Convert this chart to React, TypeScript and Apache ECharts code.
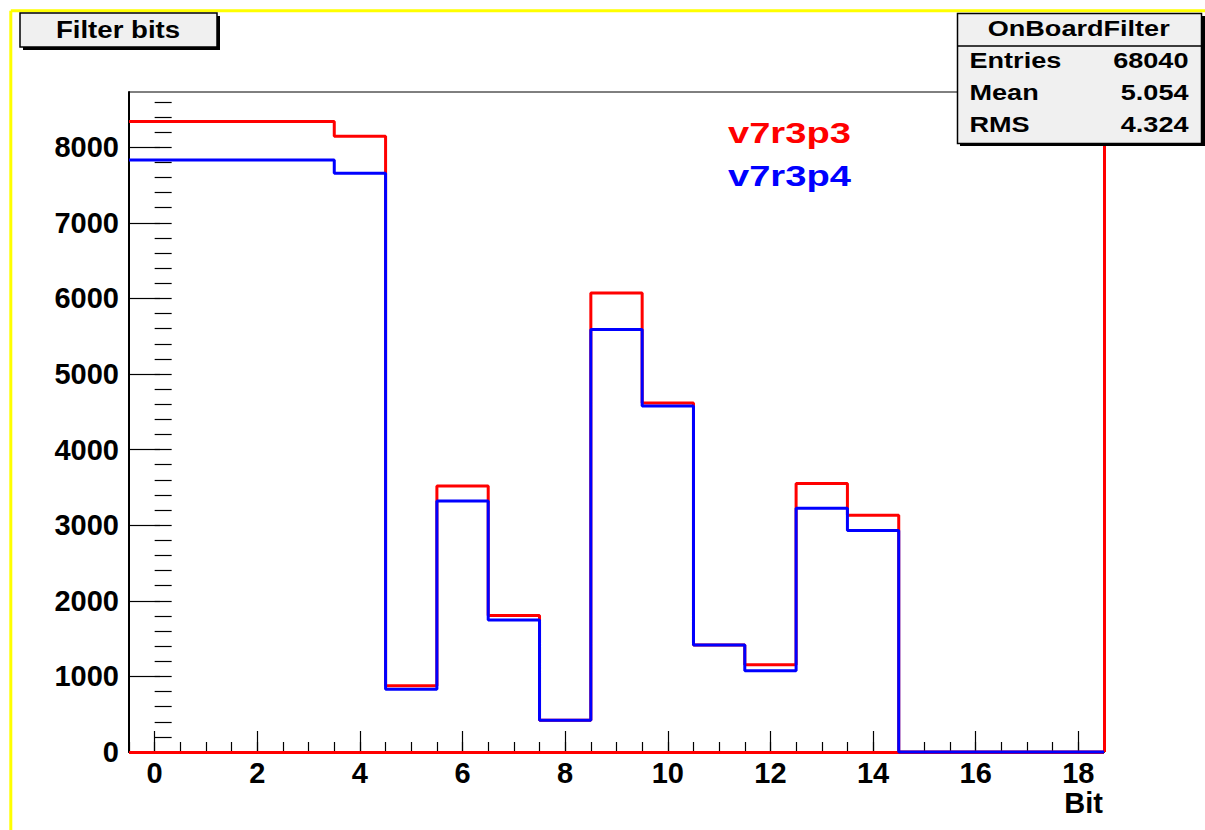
import React, { useEffect, useRef } from "react";
import * as echarts from "echarts";

// ---- data ----
const bins = [0, 1, 2, 3, 4, 5, 6, 7, 8, 9, 10, 11, 12, 13, 14, 15, 16, 17, 18];
const redValues = [8340, 8340, 8340, 8340, 8145, 875, 3520, 1805, 420, 6070, 4615, 1415, 1155, 3550, 3130, 0, 0, 0, 0];
const blueValues = [7830, 7830, 7830, 7830, 7655, 830, 3320, 1745, 420, 5590, 4575, 1415, 1075, 3225, 2930, 0, 0, 0, 0];
const seriesNames = ["v7r3p3", "v7r3p4"];
const xMajorTicks = [0, 2, 4, 6, 8, 10, 12, 14, 16, 18];
const yMajorTicks = [0, 1000, 2000, 3000, 4000, 5000, 6000, 7000, 8000];
const X_MIN = -0.5;
const X_MAX = 18.5;
const Y_MAX = 8730;
const titleText = "Filter bits";
const statTitle = "OnBoardFilter";
const statNames = ["Entries", "Mean", "RMS"];
const statValues = ["68040", "5.054", "4.324"];
const xAxisTitle = "Bit";

function range(start: number, end: number, step: number) {
  const out: number[] = [];
  for (let v = start; v <= end + 1e-9; v += step) out.push(Math.round(v * 1000) / 1000);
  return out;
}
const xMinorTicks = range(X_MIN, X_MAX, 0.5);
const yMinorTicks = range(0, 8600, 200);

function stepData(values: number[]) {
  const pts: number[][] = [];
  bins.forEach((b, i) => pts.push([b - 0.5, values[i]]));
  pts.push([X_MAX, values[values.length - 1]]);
  return pts;
}

const FONT = "Liberation Sans, Arial, Helvetica, sans-serif";
const RED = "#ff0000";
const BLUE = "#0000ff";

export default function App() {
  const ref = useRef<HTMLDivElement>(null);
  useEffect(() => {
    if (!ref.current) return;
    const chart = echarts.init(ref.current, undefined, { renderer: "svg" });
    const tickStyle = { color: "#000", width: 1.2 };
    const plain = (v: number) => String(v);
    const option: any = {
      animation: false,
      backgroundColor: "#ffffff",
      grid: {
        left: 129, right: 101, top: 92, bottom: 78,
        show: true, borderColor: "#000", borderWidth: 1, backgroundColor: "#fff",
      },
      xAxis: [
        {
          type: "value", min: X_MIN, max: X_MAX, position: "bottom",
          axisLine: { show: true, onZero: false, lineStyle: { color: "#000", width: 2 } },
          axisTick: { show: true, inside: true, length: 21, customValues: xMajorTicks, lineStyle: tickStyle },
          axisLabel: {
            show: true, customValues: xMajorTicks, formatter: plain, fontFamily: FONT, fontWeight: "bold",
            fontSize: 29, color: "#000", margin: 6,
          },
          splitLine: { show: false },
        },
        {
          type: "value", min: X_MIN, max: X_MAX, position: "bottom",
          axisLine: { show: false },
          axisTick: { show: true, inside: true, length: 10, customValues: xMinorTicks, lineStyle: tickStyle },
          axisLabel: { show: false },
          splitLine: { show: false },
        },
      ],
      yAxis: [
        {
          type: "value", min: 0, max: Y_MAX, position: "left",
          axisLine: { show: true, onZero: false, lineStyle: { color: "#000", width: 2 } },
          axisTick: { show: true, inside: true, length: 31, customValues: yMajorTicks, lineStyle: tickStyle },
          axisLabel: {
            show: true, customValues: yMajorTicks, formatter: plain, fontFamily: FONT, fontWeight: "bold",
            fontSize: 29, color: "#000", margin: 10,
          },
          splitLine: { show: false },
        },
        {
          type: "value", min: 0, max: Y_MAX, position: "left",
          axisLine: { show: false },
          axisTick: { show: true, inside: true, length: 17, customValues: yMinorTicks, lineStyle: tickStyle },
          axisLabel: { show: false },
          splitLine: { show: false },
        },
      ],
      series: [
        {
          name: seriesNames[0], type: "line", step: "end", xAxisIndex: 0, yAxisIndex: 0,
          data: stepData(redValues), symbol: "none", showSymbol: false, clip: false, z: 2,
          lineStyle: { color: RED, width: 3 },
          markLine: {
            silent: true, symbol: "none", z: 2, label: { show: false },
            lineStyle: { color: RED, width: 3, type: "solid" },
            data: [
              [{ coord: [X_MIN, 0] }, { coord: [X_MAX, 0] }],
              [{ coord: [X_MAX, 0] }, { coord: [X_MAX, Y_MAX] }],
            ],
          },
        },
        {
          name: seriesNames[1], type: "line", step: "end", xAxisIndex: 0, yAxisIndex: 0,
          data: stepData(blueValues), symbol: "none", showSymbol: false, clip: false, z: 3,
          lineStyle: { color: BLUE, width: 3 },
        },
      ],
      graphic: [
        // yellow canvas border
        { type: "line", shape: { x1: 10.8, y1: 10.8, x2: 1205, y2: 10.8 }, style: { stroke: "#ffff00", lineWidth: 3 }, z: 10 },
        { type: "line", shape: { x1: 10.8, y1: 10.8, x2: 10.8, y2: 830 }, style: { stroke: "#ffff00", lineWidth: 3 }, z: 10 },
        // title box
        { type: "rect", shape: { x: 23, y: 16, width: 197, height: 34 }, style: { fill: "#000" }, z: 10 },
        { type: "rect", shape: { x: 20, y: 13, width: 197, height: 34 }, style: { fill: "#f0f0f0", stroke: "#000", lineWidth: 1.5 }, z: 11 },
        {
          type: "text", x: 118, y: 29.5, scaleX: 1.15, z: 12,
          style: { text: titleText, fill: "#000", font: `bold 24px ${FONT}`, textAlign: "center", textVerticalAlign: "middle" },
        },
        // stats box
        { type: "rect", shape: { x: 960, y: 16, width: 245, height: 130 }, style: { fill: "#000" }, z: 10 },
        { type: "rect", shape: { x: 957.5, y: 13.5, width: 244, height: 130 }, style: { fill: "#f0f0f0", stroke: "#000", lineWidth: 1.5 }, z: 11 },
        { type: "line", shape: { x1: 957.5, y1: 46, x2: 1201.5, y2: 46 }, style: { stroke: "#000", lineWidth: 1.5 }, z: 12 },
        {
          type: "text", x: 1078.7, y: 28.5, scaleX: 1.26, z: 12,
          style: { text: statTitle, fill: "#000", font: `bold 21.5px ${FONT}`, textAlign: "center", textVerticalAlign: "middle" },
        },
        ...statNames.map((n, i) => ({
          type: "text", x: 969.5, y: 61 + i * 32, scaleX: 1.26, z: 12,
          style: { text: n, fill: "#000", font: `bold 21.5px ${FONT}`, textAlign: "left", textVerticalAlign: "middle" },
        })),
        ...statValues.map((v, i) => ({
          type: "text", x: 1188.5, y: 61 + i * 32, scaleX: 1.26, z: 12,
          style: { text: v, fill: "#000", font: `bold 21.5px ${FONT}`, textAlign: "right", textVerticalAlign: "middle" },
        })),
        // legend texts
        {
          type: "text", x: 728, y: 133, scaleX: 1.27, z: 12,
          style: { text: seriesNames[0], fill: RED, font: `bold 30px ${FONT}`, textAlign: "left", textVerticalAlign: "middle" },
        },
        {
          type: "text", x: 728, y: 176, scaleX: 1.27, z: 12,
          style: { text: seriesNames[1], fill: BLUE, font: `bold 30px ${FONT}`, textAlign: "left", textVerticalAlign: "middle" },
        },
        // x axis title
        {
          type: "text", x: 1103, y: 803, z: 12,
          style: { text: xAxisTitle, fill: "#000", font: `bold 29px ${FONT}`, textAlign: "right", textVerticalAlign: "middle" },
        },
      ],
    };
    chart.setOption(option);
    return () => chart.dispose();
  }, []);
  return (
    <div
      ref={ref}
      style={{ position: "fixed", left: 0, top: 0, width: 1205, height: 830, background: "#fff" }}
    />
  );
}
